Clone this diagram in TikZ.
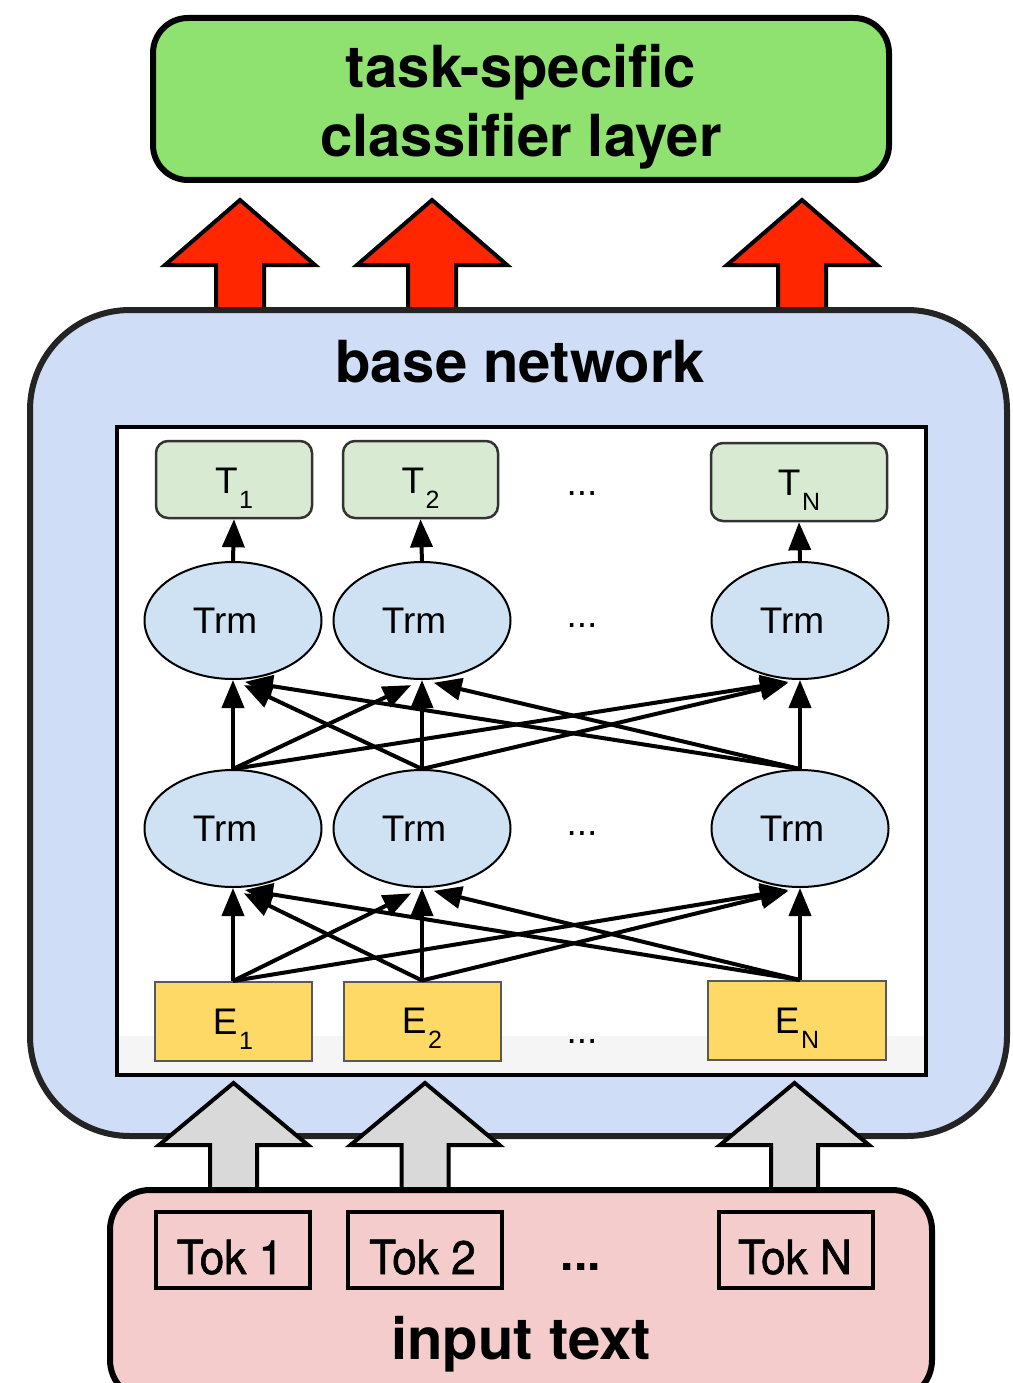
\documentclass[tikz,border=0pt]{standalone}
\usepackage{fontspec}
\setmainfont{Liberation Sans}
\newfontfamily\helv{TeX Gyre Heros}
\newfontfamily\tokfont[FakeStretch=0.94,FakeBold=1.2]{TeX Gyre Heros}
\usetikzlibrary{arrows.meta,shapes.geometric}
\definecolor{clsgreen}{RGB}{144,226,112}
\definecolor{basebl}{RGB}{207,221,247}
\definecolor{basedark}{RGB}{36,36,36}
\definecolor{redarr}{RGB}{255,38,0}
\definecolor{grayarr}{RGB}{217,217,217}
\definecolor{inpink}{RGB}{244,204,204}
\definecolor{tgreen}{RGB}{217,234,211}
\definecolor{trmblue}{RGB}{207,226,243}
\definecolor{eyellow}{RGB}{255,217,102}
\newcommand\lbl[2]{\raisebox{-#1}[0pt][0pt]{#2}}
\newcommand\subidx[1]{\kern1.5pt\raisebox{-15pt}{\fontsize{25}{25}\selectfont #1}}
\begin{document}
\begin{tikzpicture}[x=1pt,y=-1pt,
  titletext/.style={font=\helv\bfseries\fontsize{58}{58}\selectfont, inner sep=0pt},
  blockred/.style={draw=black, line width=4pt, fill=redarr, line join=miter},
  blockgray/.style={draw=black, line width=4pt, fill=grayarr, line join=miter},
  tbox/.style={draw=black!80, line width=2.5pt, rounded corners=12pt, fill=tgreen, inner sep=0pt, minimum height=77pt, font=\fontsize{37}{37}\selectfont},
  trm/.style={ellipse, draw=black, line width=2pt, fill=trmblue, inner sep=0pt, minimum width=177pt, minimum height=117pt, font=\fontsize{37}{37}\selectfont},
  ebox/.style={draw=black!65, line width=2pt, fill=eyellow, inner sep=0pt, minimum height=79pt, font=\fontsize{37}{37}\selectfont},
  tokbox/.style={draw=black, line width=4pt, inner sep=0pt, minimum width=154pt, minimum height=76pt, font=\tokfont\fontsize{47}{47}\selectfont},
  dots/.style={anchor=base, inner sep=0pt, font=\fontsize{37}{37}\selectfont},
  conn/.style={draw=black, line width=4pt, -{Triangle[length=28pt,width=22pt]}},
  conndiag/.style={conn, shorten >=12pt}
]
\useasboundingbox (0,0) rectangle (1012,1383);

% classifier layer
\node[draw=black, line width=6pt, rounded corners=35pt, fill=clsgreen, minimum width=736pt, minimum height=162pt, inner sep=0pt] (cls) at (521,99) {};
\node[titletext, anchor=base] (cls1) at (521,88) {task-specific};
\node[titletext, anchor=base] (cls2) at (521,157) {classifier layer};

% red block arrows
\foreach \cx in {240,432,802}{
  \draw[blockred] ({\cx-24},310) -- ({\cx-24},265) -- ({\cx-75},265) -- (\cx,200) -- ({\cx+75},265) -- ({\cx+24},265) -- ({\cx+24},310) -- cycle;
}

% base network
\node[draw=basedark, line width=6pt, rounded corners=100pt, fill=basebl, minimum width=977pt, minimum height=826pt, inner sep=0pt] (base) at (518.5,723) {};
\node[titletext, anchor=base] (basetxt) at (520,382) {base network};

\node[draw=black, line width=4pt, fill=white, minimum width=809pt, minimum height=648pt, inner sep=0pt] (inner) at (521.5,751) {};
\fill[black!4] (119,1036) rectangle (924,1073);

% T boxes
\node[tbox, minimum width=156pt] (t1) at (234,479.5) {\lbl{13.5pt}{T\subidx{1}}};
\node[tbox, minimum width=155pt] (t2) at (420.5,479.5) {\lbl{13.5pt}{T\subidx{2}}};
\node[tbox, minimum width=176pt, minimum height=78pt] (tn) at (799,482) {\lbl{13pt}{T\subidx{N}}};

% Trm ellipses
\node[trm] (u1) at (233,620.5) {\hspace*{-16pt}Trm};
\node[trm] (u2) at (422,620.5) {\hspace*{-16pt}Trm};
\node[trm] (un) at (800,620.5) {\hspace*{-16pt}Trm};
\node[trm] (b1) at (233,828.5) {\hspace*{-16pt}Trm};
\node[trm] (b2) at (422,828.5) {\hspace*{-16pt}Trm};
\node[trm] (bn) at (800,828.5) {\hspace*{-16pt}Trm};

% E boxes
\node[ebox, minimum width=157pt] (e1) at (233,1021.5) {\lbl{12.5pt}{E\subidx{1}}};
\node[ebox, minimum width=157pt] (e2) at (422,1021) {\lbl{12.5pt}{E\subidx{2}}};
\node[ebox, minimum width=178pt] (en) at (797,1020.5) {\lbl{12.5pt}{E\subidx{N}}};

% dots
\node[dots] (dt) at (582,495) {...};
\node[dots] (du) at (582,627) {...};
\node[dots] (db) at (582,835) {...};
\node[dots] (de) at (582,1043) {...};

% connectors E -> lower Trm
\draw[conn]     (e1.north -| b1) -- (b1.south);
\draw[conndiag] (e1.north -| b1) -- (b2.south);
\draw[conndiag] (e1.north -| b1) -- (bn.south);
\draw[conndiag] (e2.north -| b2) -- (b1.south);
\draw[conn]     (e2.north -| b2) -- (b2.south);
\draw[conndiag] (e2.north -| b2) -- (bn.south);
\draw[conndiag] (en.north -| bn) -- (b1.south);
\draw[conndiag] (en.north -| bn) -- (b2.south);
\draw[conn]     (en.north -| bn) -- (bn.south);

% connectors lower Trm -> upper Trm
\draw[conn]     (b1.north) -- (u1.south);
\draw[conndiag] (b1.north) -- (u2.south);
\draw[conndiag] (b1.north) -- (un.south);
\draw[conndiag] (b2.north) -- (u1.south);
\draw[conn]     (b2.north) -- (u2.south);
\draw[conndiag] (b2.north) -- (un.south);
\draw[conndiag] (bn.north) -- (u1.south);
\draw[conndiag] (bn.north) -- (u2.south);
\draw[conn]     (bn.north) -- (un.south);

% connectors upper Trm -> T
\draw[conn] (u1.north) -- (t1.south);
\draw[conn] (u2.north) -- (t2.south);
\draw[conn] (un.north) -- (tn.south);

% gray block arrows
\foreach \cx in {233.5,425,794.5}{
  \draw[blockgray] ({\cx-23.5},1195) -- ({\cx-23.5},1145) -- ({\cx-74.5},1145) -- (\cx,1083) -- ({\cx+74.5},1145) -- ({\cx+23.5},1145) -- ({\cx+23.5},1195) -- cycle;
}

% input text
\node[draw=black, line width=6pt, rounded corners=40pt, fill=inpink, minimum width=822pt, minimum height=210pt, inner sep=0pt] (input) at (521,1295) {};
\node[tokbox] (tok1) at (233,1250) {\lbl{24pt}{\hspace*{-6pt}Tok 1}};
\node[tokbox] (tok2) at (424.5,1250) {\lbl{24pt}{\hspace*{-4pt}Tok 2}};
\node[tokbox] (tokn) at (796,1250) {\lbl{24pt}{\hspace*{-2pt}Tok N}};
\node[anchor=base, inner sep=0pt, font=\helv\bfseries\fontsize{48}{48}\selectfont] (dtok) at (581,1270) {...};
\node[titletext, anchor=base] (inputtxt) at (521,1359) {input text};
\end{tikzpicture}
\end{document}
